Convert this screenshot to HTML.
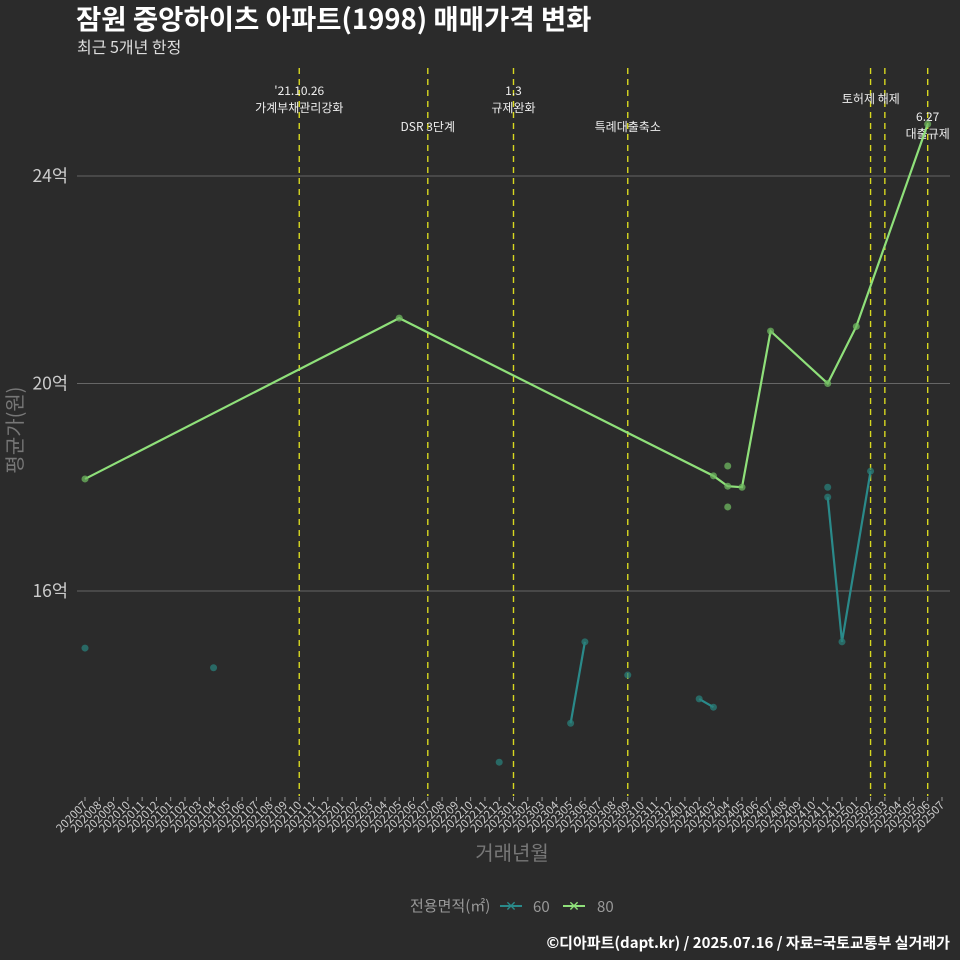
<!DOCTYPE html>
<html><head><meta charset="utf-8"><style>
body{margin:0;background:#2b2b2b;}
svg{display:block;font-family:"Noto Sans CJK KR","Liberation Sans",sans-serif;}
</style></head><body>
<svg id="chart" width="960" height="960">
<rect width="960" height="960" fill="#2b2b2b"/>
<text x="76" y="29" font-size="27.5" font-weight="bold" fill="#fff">잠원 중앙하이츠 아파트(1998) 매매가격 변화</text>
<text x="77" y="53" font-size="16" fill="#ddd">최근 5개년 한정</text>
<g id="grid"></g><g id="vlines"></g><g id="xaxis"></g><g id="series"></g>
<text transform="translate(22,430) rotate(-90)" text-anchor="middle" font-size="20" fill="#777">평균가(원)</text>
<text x="512" y="860" text-anchor="middle" font-size="20" fill="#777">거래년월</text>
<g>
<text x="410" y="911" font-size="15" fill="#999">전용면적(㎡)</text>
<g><line x1="500" y1="906" x2="522" y2="906" stroke="#2a8a8a" stroke-width="2"/><text x="511" y="911" text-anchor="middle" fill="#2a8a8a" font-size="14">✕</text><text x="533" y="912" font-size="15" fill="#999">60</text></g>
<g><line x1="563" y1="906" x2="585" y2="906" stroke="#8fe07a" stroke-width="2"/><text x="574" y="911" text-anchor="middle" fill="#8fe07a" font-size="14">✕</text><text x="597" y="912" font-size="15" fill="#999">80</text></g>
</g>
<text x="950" y="948" text-anchor="end" font-size="15" font-weight="bold" fill="#fff">©디아파트(dapt.kr) / 2025.07.16 / 자료=국토교통부 실거래가</text>
</svg>
<script>
const yTicks=[16,20,24];
const events=["202110","202207","202301","202309","202502","202503","202506"];
const eventLabels=[["'21.10.26","가계부채관리강화"],["DSR 3단계"],["1.3","규제완화"],["특례대출축소"],[],["토허제 해제"],["6.27","대출규제"]];
const s80Months=["202007","202205","202403","202404","202405","202407","202411","202501","202506"];
const s80Values=[18.16,21.26,18.22,18.02,18.0,21.01,20.0,21.1,25.0];
const s80DotMonths=["202404","202404"];
const s80DotValues=[18.41,17.62];
const s60Months=["202007","202104","202212","202305","202306","202309","202402","202403","202411","202412","202502"];
const s60Values=[14.9,14.52,12.7,13.45,15.02,14.38,13.92,13.76,17.81,15.02,18.31];
const s60Groups=[0,1,2,3,3,4,5,5,6,6,6];
const s60DotMonths=["202411"];
const s60DotValues=[18.0];

const NS="http://www.w3.org/2000/svg";
function mi(m){return (parseInt(m.slice(0,4))-2020)*12+parseInt(m.slice(4))-7;}
function X(m){return 85+mi(m)*14.283;}
function Y(v){return 176+(24-v)*51.875;}
function mk(p,t,a){const e=document.createElementNS(NS,t);for(const k in a)e.setAttribute(k,a[k]);p.appendChild(e);return e;}
const grid=document.getElementById('grid');
yTicks.forEach(v=>{
 const l=mk(grid,'line',{x1:77,x2:950,y1:Y(v),y2:Y(v),stroke:'#666','stroke-width':1});
 
 
 const t=mk(grid,'text',{x:68,y:Y(v)+6,'text-anchor':'end','font-size':17.5,fill:'#ccc'});
 t.textContent=v+'억';
 
 
});
const vl=document.getElementById('vlines');
const lblY=[[95,112],[131],[95,112],[131],[],[103],[121,138]];
events.forEach((m,i)=>{
 const l=mk(vl,'line',{x1:X(m),x2:X(m),y1:68,y2:796,stroke:'#d8d820','stroke-width':1.4,'stroke-dasharray':'6,5'});
 
 
 eventLabels[i].forEach((s,j)=>{
  let x=X(m); if(i==5)x=X(m)-14;
  const t=mk(vl,'text',{x:x,y:lblY[i][j],'text-anchor':'middle','font-size':12,fill:'#eee'});
  t.textContent=s;
  
  
 });
});
const xa=document.getElementById('xaxis');
for(let i=0;i<=60;i++){
 const y=2020+Math.floor((i+6)/12),mo=(i+6)%12+1;
 const m=''+y+(mo<10?'0':'')+mo;
 const x=X(m);
 mk(xa,'line',{x1:x,x2:x,y1:797,y2:801,stroke:'#999'});
 const t=mk(xa,'text',{transform:`translate(${x+3},${806}) rotate(-45)`,'text-anchor':'end','font-size':11.5,fill:'#ccc'});
 t.textContent=m;
 
 
}
const sg=document.getElementById('series');
const groups={};
s60Months.forEach((m,i)=>{(groups[s60Groups[i]]=groups[s60Groups[i]]||[]).push([X(m),Y(s60Values[i])]);});
Object.values(groups).forEach(g=>{if(g.length>1){
 const p=mk(sg,'polyline',{points:g.map(q=>q.join(',')).join(' '),fill:'none',stroke:'#2a8a8a','stroke-width':2.2});
 
 
}});
function dots(ms,vs,c,n){ms.forEach((m,i)=>{
 const d=mk(sg,'circle',{cx:X(m),cy:Y(vs[i]),r:3.5,fill:c,'fill-opacity':0.75});
 
 
});}
dots(s60Months,s60Values,'#2a7f7a','point-60');
dots(s60DotMonths,s60DotValues,'#2a7f7a','point-60');
const p80=mk(sg,'polyline',{points:s80Months.map((m,i)=>X(m)+','+Y(s80Values[i])).join(' '),fill:'none',stroke:'#8fe07a','stroke-width':2.2});


dots(s80Months,s80Values,'#6fb860','point-80');
dots(s80DotMonths,s80DotValues,'#6fb860','point-80');
</script>
</body></html>
